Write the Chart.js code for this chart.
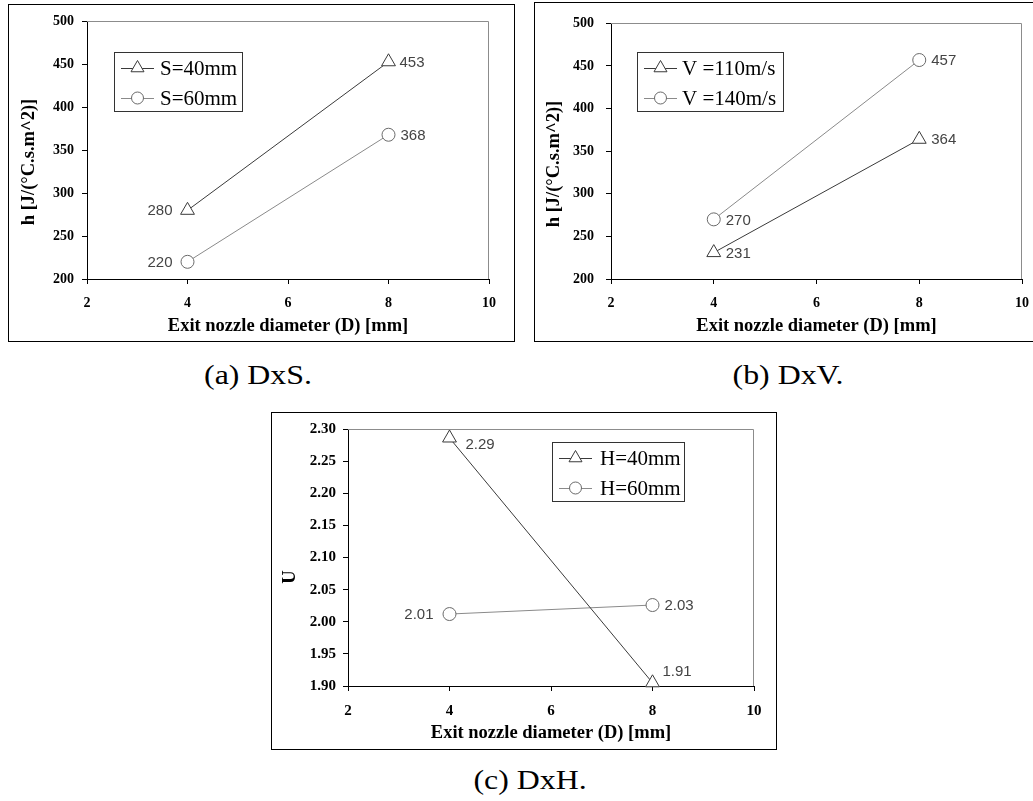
<!DOCTYPE html>
<html><head><meta charset="utf-8">
<script src="https://cdn.jsdelivr.net/npm/chart.js@4.4.1/dist/chart.umd.min.js"></script>
<style>
html,body{margin:0;padding:0;background:#fff;overflow:hidden;width:1033px;height:801px;position:relative}
.box{position:absolute;border:1px solid #000;box-sizing:border-box;background:#fff}
.box canvas{position:absolute;left:0;top:0}
.cap{position:absolute;font-family:"Liberation Serif",serif;font-size:27px;line-height:27px;white-space:nowrap;color:#000;transform:translateX(-50%) scaleX(1.18);transform-origin:center}
</style></head>
<body>
<div class="box" style="left:8px;top:4px;width:507px;height:338px"><canvas id="ca" width="505" height="336"></canvas></div>
<div class="box" style="left:534px;top:2px;width:507px;height:340px"><canvas id="cb" width="505" height="338"></canvas></div>
<div class="box" style="left:271px;top:412px;width:506px;height:338px"><canvas id="cc" width="504" height="336"></canvas></div>
<div class="cap" style="left:258px;top:362px">(a) DxS.</div>
<div class="cap" style="left:788px;top:362px">(b) DxV.</div>
<div class="cap" style="left:530px;top:767px">(c) DxH.</div>
<script>
// ---- data ----
const xValues = [4, 8];
const xTicks = [2, 4, 6, 8, 10];
const xTitle = 'Exit nozzle diameter (D) [mm]';

const aNames = ['S=40mm', 'S=60mm'];
const aS40 = [280, 453];
const aS60 = [220, 368];
const aS40Labels = ['280', '453'];
const aS60Labels = ['220', '368'];
const aYTicks = [200, 250, 300, 350, 400, 450, 500];
const aYTitle = 'h [J/(\u00B0C.s.m^2)]';

const bNames = ['V =110m/s', 'V =140m/s'];
const bV110 = [231, 364];
const bV140 = [270, 457];
const bV110Labels = ['231', '364'];
const bV140Labels = ['270', '457'];
const bYTicks = [200, 250, 300, 350, 400, 450, 500];
const bYTitle = 'h [J/(\u00B0C.s.m^2)]';

const cNames = ['H=40mm', 'H=60mm'];
const cH40 = [2.286, 1.905];
const cH60 = [2.012, 2.026];
const cH40Labels = ['2.29', '1.91'];
const cH60Labels = ['2.01', '2.03'];
const cYTicks = [1.90, 1.95, 2.00, 2.05, 2.10, 2.15, 2.20, 2.25, 2.30];
const cYTitle = 'U';

// ---- styling ----
const DARK = '#3a3a3a', LIGHT = '#8a8a8a', LIGHTM = '#6a6a6a';

function drawMarker(ctx, style, x, y, r, color) {
  ctx.save();
  ctx.beginPath();
  if (style === 'triangle') {
    for (let k = 0; k < 3; k++) {
      const a = k * 2 * Math.PI / 3;
      const px = x + Math.sin(a) * r, py = y - Math.cos(a) * r;
      if (k === 0) ctx.moveTo(px, py); else ctx.lineTo(px, py);
    }
    ctx.closePath();
  } else {
    ctx.arc(x, y, r, 0, Math.PI * 2);
  }
  ctx.fillStyle = '#fff'; ctx.fill();
  ctx.strokeStyle = color; ctx.lineWidth = 1; ctx.stroke();
  ctx.restore();
}

const decor = {
  id: 'decor',
  beforeDatasetsDraw(chart, args, o) {
    const {ctx, chartArea: ca} = chart;
    ctx.save();
    ctx.strokeStyle = '#8c8c8c'; ctx.lineWidth = 1;
    ctx.beginPath();
    ctx.moveTo(ca.left, Math.round(ca.top) + 0.5);
    ctx.lineTo(Math.round(ca.right) - 0.5, Math.round(ca.top) + 0.5);
    ctx.lineTo(Math.round(ca.right) - 0.5, ca.bottom);
    ctx.stroke();
    ctx.restore();
  },
  afterDatasetsDraw(chart, args, o) {
    const {ctx, chartArea: ca} = chart;
    ctx.save();
    // point labels
    ctx.font = '15px "Liberation Sans", Arial, sans-serif';
    ctx.fillStyle = '#444';
    ctx.textBaseline = 'middle';
    chart.data.datasets.forEach((ds, i) => {
      const meta = chart.getDatasetMeta(i);
      meta.data.forEach((pt, j) => {
        const p = o.labelPos[i][j];
        ctx.textAlign = p.align;
        ctx.fillText(o.labels[i][j], pt.x + p.dx, pt.y + p.dy);
      });
    });
    // legend
    const L = o.legend;
    ctx.fillStyle = '#fff';
    ctx.fillRect(L.x, L.y, L.w, L.h);
    ctx.strokeStyle = '#333'; ctx.lineWidth = 1;
    ctx.strokeRect(L.x + 0.5, L.y + 0.5, L.w, L.h);
    ctx.font = '21px "Liberation Serif", "Times New Roman", serif';
    ctx.textAlign = 'left';
    chart.data.datasets.forEach((ds, i) => {
      const cy = L.rows[i];
      ctx.strokeStyle = ds.borderColor; ctx.lineWidth = 1;
      ctx.beginPath(); ctx.moveTo(L.lx0, cy + 0.5); ctx.lineTo(L.lx1, cy + 0.5); ctx.stroke();
      drawMarker(ctx, ds.pointStyle, (L.lx0 + L.lx1) / 2, cy, ds.pointRadius - 0.5, ds.pointBorderColor);
      ctx.fillStyle = '#000';
      ctx.fillText(ds.label, L.tx, cy + 1);
    });
    // axis titles
    ctx.fillStyle = '#000';
    ctx.font = 'bold 18.5px "Liberation Serif", "Times New Roman", serif';
    ctx.textAlign = 'center';
    ctx.textBaseline = 'alphabetic';
    ctx.fillText(o.xTitle, (ca.left + ca.right) / 2, o.xTitleY);
    ctx.translate(o.yTitleX, o.yTitleY);
    ctx.rotate(-Math.PI / 2);
    ctx.textBaseline = 'middle';
    ctx.fillText(o.yTitle, 0, 0);
    ctx.restore();
  }
};

function makeDs(label, values, style, lineColor, markColor) {
  return {
    label,
    data: values.map((v, i) => ({x: xValues[i], y: v})),
    borderColor: lineColor,
    borderWidth: 1,
    pointStyle: style,
    pointRadius: style === 'triangle' ? 8 : 6.5,
    pointHoverRadius: style === 'triangle' ? 8 : 6.5,
    pointBackgroundColor: '#fff',
    pointBorderColor: markColor,
    pointBorderWidth: 1,
    clip: false,
    tension: 0
  };
}

function makeChart(id, g) {
  const tickFont = {family: '"Liberation Serif", "Times New Roman", serif', weight: 'bold', size: g.tickSize};
  new Chart(document.getElementById(id), {
    type: 'line',
    data: {datasets: g.datasets},
    options: {
      responsive: false,
      animation: false,
      devicePixelRatio: 1,
      events: [],
      layout: {padding: {left: 0, top: g.top, right: g.right, bottom: 0}},
      plugins: {legend: {display: false}, tooltip: {enabled: false}, title: {display: false},
        decor: g.decor},
      scales: {
        x: {
          type: 'linear', min: 2, max: 10,
          afterBuildTicks: s => { s.ticks = xTicks.map(v => ({value: v})); },
          afterFit: s => { s.height = g.xh; },
          grid: {drawOnChartArea: false, drawTicks: true, tickLength: 5, color: '#000'},
          border: {display: true, color: '#000', width: 1},
          ticks: {font: tickFont, color: '#000', padding: g.xpad, maxRotation: 0, autoSkip: false,
            callback: v => String(v)}
        },
        y: {
          type: 'linear', min: g.yTicks[0], max: g.yTicks[g.yTicks.length - 1],
          afterBuildTicks: s => { s.ticks = g.yTicks.map(v => ({value: v})); },
          afterFit: s => { s.width = g.yw; },
          grid: {drawOnChartArea: false, drawTicks: true, tickLength: 5, color: '#000'},
          border: {display: true, color: '#000', width: 1},
          ticks: {font: tickFont, color: '#000', padding: g.ypad, autoSkip: false,
            callback: v => g.yFmt(v)}
        }
      }
    },
    plugins: [decor]
  });
}

makeChart('ca', {
  top: 12, right: 25, yw: 78, xh: 62, xpad: 11, ypad: 8, tickSize: 14,
  yTicks: aYTicks, yFmt: v => String(v),
  datasets: [
    makeDs(aNames[0], aS40, 'triangle', DARK, DARK),
    makeDs(aNames[1], aS60, 'circle', LIGHT, LIGHTM)
  ],
  decor: {
    labels: [aS40Labels, aS60Labels],
    labelPos: [
      [{dx: -15, dy: 1, align: 'right'}, {dx: 11, dy: 1, align: 'left'}],
      [{dx: -15, dy: 1, align: 'right'}, {dx: 12, dy: 1, align: 'left'}]
    ],
    legend: {x: 105, y: 47, w: 128, h: 59, rows: [63, 93], lx0: 112, lx1: 145, tx: 151},
    xTitle: xTitle, xTitleY: 326,
    yTitle: aYTitle, yTitleX: 20, yTitleY: 157
  }
});

makeChart('cb', {
  top: 12, right: 10, yw: 76, xh: 62, xpad: 11, ypad: 12, tickSize: 14,
  yTicks: bYTicks, yFmt: v => String(v),
  datasets: [
    makeDs(bNames[0], bV110, 'triangle', DARK, DARK),
    makeDs(bNames[1], bV140, 'circle', LIGHT, LIGHTM)
  ],
  decor: {
    labels: [bV110Labels, bV140Labels],
    labelPos: [
      [{dx: 12, dy: 1, align: 'left'}, {dx: 12, dy: 1, align: 'left'}],
      [{dx: 12, dy: 1, align: 'left'}, {dx: 12, dy: 1, align: 'left'}]
    ],
    legend: {x: 102, y: 49, w: 146, h: 59, rows: [65, 95], lx0: 109, lx1: 142, tx: 147},
    xTitle: xTitle, xTitleY: 328,
    yTitle: bYTitle, yTitleX: 19, yTitleY: 161
  }
});

makeChart('cc', {
  top: 14, right: 22, yw: 76, xh: 63, xpad: 11, ypad: 7, tickSize: 15,
  yTicks: cYTicks, yFmt: v => v.toFixed(2),
  datasets: [
    makeDs(cNames[0], cH40, 'triangle', DARK, DARK),
    makeDs(cNames[1], cH60, 'circle', LIGHT, LIGHTM)
  ],
  decor: {
    labels: [cH40Labels, cH60Labels],
    labelPos: [
      [{dx: 16, dy: 7, align: 'left'}, {dx: 10, dy: -11, align: 'left'}],
      [{dx: -16, dy: 1, align: 'right'}, {dx: 12, dy: 1, align: 'left'}]
    ],
    legend: {x: 280, y: 29, w: 132, h: 59, rows: [45, 75], lx0: 287, lx1: 320, tx: 328},
    xTitle: xTitle, xTitleY: 325,
    yTitle: cYTitle, yTitleX: 18, yTitleY: 164
  }
});
</script>
</body></html>
